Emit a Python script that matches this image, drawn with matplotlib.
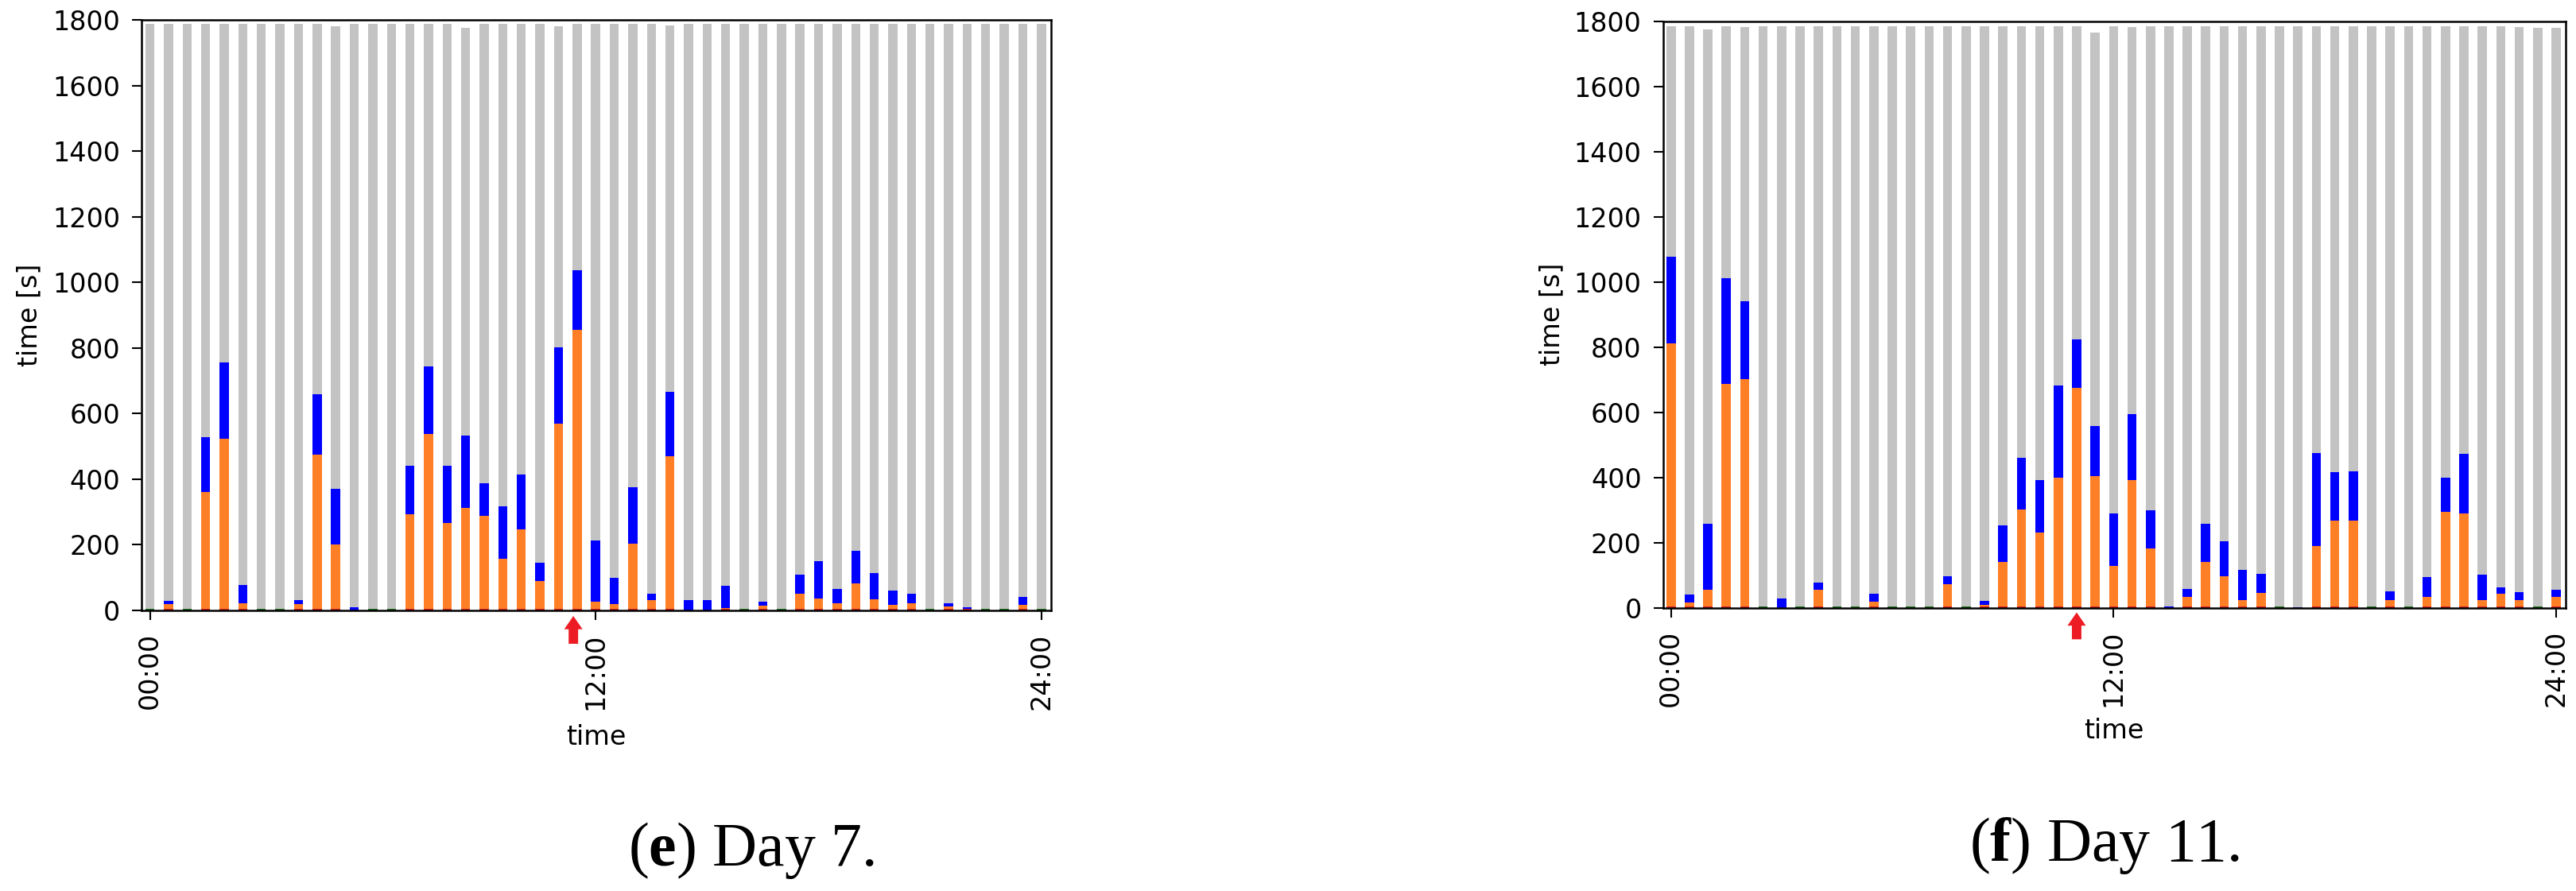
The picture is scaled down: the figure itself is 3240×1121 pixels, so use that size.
import matplotlib.pyplot as plt
import numpy as np

# half-hour slots, 49 bars from 00:00 to 24:00
slots = np.arange(49)
tick_pos = [0, 24, 48]
tick_labels = ["00:00", "12:00", "24:00"]

# Day 7 [s]
red_7 = [0, 4, 0, 4, 4, 4, 0, 0, 4, 4, 4, 0, 0, 0, 4, 4, 4, 4, 4, 4, 4, 4, 4, 4, 4,
         4, 4, 4, 4, 0, 0, 4, 0, 4, 0, 4, 4, 4, 4, 4, 4, 4, 0, 4, 4, 0, 0, 4, 0]
green_7 = [4, 0, 4, 0, 0, 0, 4, 4, 0, 0, 0, 0, 4, 4, 0, 0, 0, 0, 0, 0, 0, 0, 0, 0, 0,
           0, 0, 0, 0, 0, 0, 0, 4, 0, 4, 0, 0, 0, 0, 0, 0, 0, 4, 0, 0, 4, 4, 0, 4]
orange_7 = [0, 16, 0, 358, 519, 19, 0, 0, 16, 472, 198, 0, 0, 0, 288, 535, 263, 308, 285,
            154, 242, 86, 566, 852, 23, 16, 200, 28, 467, 0, 0, 3, 0, 10, 0, 46, 33, 19,
            79, 31, 14, 19, 0, 9, 0, 0, 0, 14, 0]
blue_7 = [0, 10, 0, 167, 233, 55, 0, 0, 12, 184, 168, 10, 0, 0, 148, 205, 173, 222, 99,
          159, 169, 56, 231, 182, 187, 80, 171, 18, 196, 31, 31, 67, 0, 13, 0, 60, 112, 42,
          98, 78, 42, 29, 0, 10, 6, 0, 0, 24, 0]
total_7 = [1787, 1787, 1787, 1787, 1787, 1787, 1787, 1787, 1787, 1787, 1781, 1787, 1787,
           1787, 1789, 1789, 1789, 1776, 1787, 1787, 1787, 1787, 1781, 1787, 1787, 1787,
           1787, 1787, 1784, 1787, 1787, 1787, 1787, 1787, 1787, 1787, 1787, 1787, 1787,
           1787, 1787, 1787, 1787, 1787, 1787, 1787, 1789, 1787, 1787]

# Day 11 [s]
red_11 = [4, 4, 4, 4, 4, 0, 0, 0, 4, 0, 0, 4, 0, 0, 0, 4, 0, 4, 4, 4, 4, 4, 4, 4, 4,
          4, 4, 0, 4, 4, 4, 4, 4, 0, 0, 4, 4, 4, 0, 4, 0, 4, 4, 4, 4, 4, 4, 0, 4]
green_11 = [0, 0, 0, 0, 0, 4, 0, 4, 0, 4, 4, 0, 4, 4, 4, 0, 4, 0, 0, 0, 0, 0, 0, 0, 0,
            0, 0, 0, 0, 0, 0, 0, 0, 4, 0, 0, 0, 0, 4, 0, 4, 0, 0, 0, 0, 0, 0, 4, 0]
orange_11 = [807, 11, 51, 683, 698, 0, 0, 0, 51, 0, 0, 14, 0, 0, 0, 67, 0, 4, 136, 298,
             227, 395, 671, 400, 125, 387, 178, 0, 29, 136, 92, 19, 41, 0, 0, 186, 263,
             263, 0, 19, 0, 29, 290, 285, 19, 39, 19, 0, 29]
blue_11 = [267, 25, 202, 325, 239, 0, 29, 0, 21, 0, 0, 25, 0, 0, 0, 25, 0, 12, 112, 158,
           160, 283, 149, 153, 160, 203, 117, 4, 25, 117, 107, 93, 59, 0, 2, 285, 149,
           152, 0, 27, 0, 61, 105, 183, 78, 20, 25, 0, 22]
total_11 = [1785, 1785, 1776, 1785, 1781, 1785, 1785, 1785, 1785, 1785, 1785, 1785, 1785,
            1785, 1785, 1785, 1785, 1785, 1785, 1785, 1785, 1785, 1785, 1765, 1785, 1781,
            1785, 1785, 1785, 1785, 1785, 1785, 1785, 1785, 1785, 1785, 1785, 1785, 1785,
            1785, 1785, 1785, 1785, 1785, 1785, 1785, 1781, 1779, 1779]

RED = "#d42020"
GREEN = "#1e6e1e"
ORANGE = "#ff7f27"
BLUE = "#0000ff"
GREY = "#c3c3c3"
ARROW = "#ed1c24"

plt.rcParams["font.family"] = "DejaVu Sans"
plt.rcParams["mathtext.fontset"] = "custom"
plt.rcParams["mathtext.rm"] = "Liberation Serif"
plt.rcParams["mathtext.bf"] = "Liberation Serif:bold"


def draw_day(ax, red, green, orange, blue, total, width, arrow_x, arrow_y, ylab_x, xlab_y):
    base = np.zeros(len(slots))
    for vals, col in [(red, RED), (green, GREEN), (orange, ORANGE), (blue, BLUE)]:
        vals = np.array(vals, dtype=float)
        ax.bar(slots, vals, width, bottom=base, color=col, linewidth=0)
        base = base + vals
    grey = np.array(total, dtype=float) - base
    ax.bar(slots, grey, width, bottom=base, color=GREY, linewidth=0)

    ax.set_xlim(-0.44, 48.52)
    ax.set_ylim(0, 1800)
    ax.set_yticks(np.arange(0, 1801, 200))
    ax.set_xticks(tick_pos)
    ax.set_xticklabels(tick_labels, rotation=90)
    ax.tick_params(axis="both", labelsize=24, length=8.3, width=1.5)
    ax.tick_params(axis="y", pad=11)
    ax.tick_params(axis="x", pad=12)
    for s in ax.spines.values():
        s.set_linewidth(1.8)

    ax.set_ylabel("time [s]", fontsize=24)
    ax.yaxis.set_label_coords(ylab_x, 0.5)
    ax.set_xlabel("time", fontsize=24)
    ax.xaxis.set_label_coords(0.5, xlab_y)

    ax.annotate("", xy=(arrow_x, arrow_y[0]), xycoords=("data", "axes fraction"),
                xytext=(arrow_x, arrow_y[1]), textcoords=("data", "axes fraction"),
                arrowprops=dict(facecolor=ARROW, edgecolor="none", width=8.6,
                                headwidth=16.6, headlength=12, shrink=0),
                annotation_clip=False)


fig = plt.figure(figsize=(32.41, 11.21), dpi=100)
ax1 = fig.add_axes([178.3 / 3241, (1121 - 768) / 1121, 1143.7 / 3241, 743 / 1121])
ax2 = fig.add_axes([2091.5 / 3241, (1121 - 764.5) / 1121, 1135.5 / 3241, 737.8 / 1121])

draw_day(ax1, red_7, green_7, orange_7, blue_7, total_7, 0.49,
         22.8, (-0.0094, -0.0565), -0.1096, -0.192)
draw_day(ax2, red_11, green_11, orange_11, blue_11, total_11, 0.5,
         22.0, (-0.0081, -0.054), -0.108, -0.188)

fig.text(945 / 3241, 1 - 1089 / 1121, r"($\mathbf{e}$) Day 7.", ha="center",
         va="baseline", fontsize=56, family="Liberation Serif")
fig.text(2647 / 3241, 1 - 1083 / 1121, r"($\mathbf{f}$) Day 11.", ha="center",
         va="baseline", fontsize=56, family="Liberation Serif")

fig.savefig("out.png", dpi=100)
